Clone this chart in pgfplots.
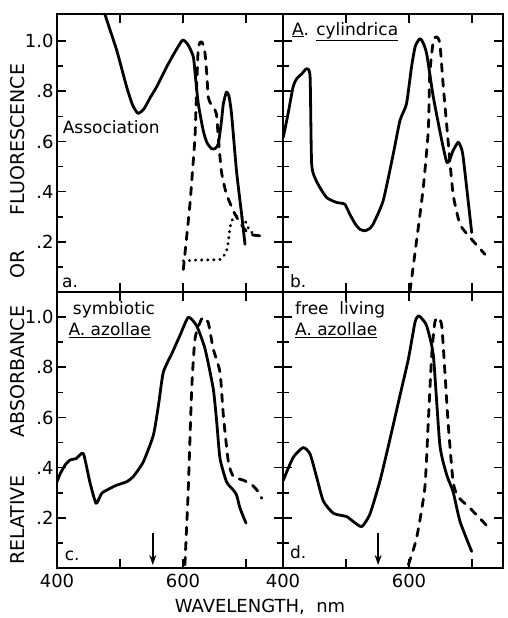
\documentclass[border=0pt]{standalone}
\usepackage{pgfplots}
\pgfplotsset{compat=1.18}
\usetikzlibrary{arrows.meta}
\usepackage{fontspec}
\setmainfont{DejaVu Sans}

\pgfplotsset{
  panel/.style={
    scale only axis,
    ymin=0,
    xmin=400,
    axis line style={line width=1.7pt},
    every tick/.style={black, line width=1.6pt},
    tick align=inside,
    tickwidth=9pt,
    subtickwidth=6pt,
    tick pos=both,
    xtick={400,500,600,700},
    ytick={0.2,0.4,0.6,0.8,1.0},
    minor ytick={0.1,0.3,0.5,0.7,0.9},
    xticklabels={},
    yticklabels={},
    ticklabel style={font=\fontsize{18}{20}\selectfont},
  },
}
\tikzset{
  crv/.style={black, mark=none, solid, line width=2.8pt, line join=round, line cap=round, smooth, tension=0.35},
  dsh/.style={dash pattern=on 7.5pt off 7.5pt},
  dot/.style={line width=3.2pt, dash pattern=on 0.1pt off 6pt},
  ptxt/.style={font=\fontsize{17}{19}\selectfont, inner sep=0pt},
  tk/.style={black, line width=1.6pt, line cap=butt},
}
% manual tick marks: #1 = xmax, #2 = ymax
\newcommand{\panelticks}[2]{%
  \pgfplotsinvokeforeach{0.2,0.4,0.6,0.8,1.0}{%
    \draw[tk] (axis cs:400,##1) -- ([xshift=9pt]axis cs:400,##1);
    \draw[tk] (axis cs:#1,##1) -- ([xshift=-9pt]axis cs:#1,##1);}%
  \pgfplotsinvokeforeach{0.1,0.3,0.5,0.7,0.9}{%
    \draw[tk] (axis cs:400,##1) -- ([xshift=5.5pt]axis cs:400,##1);
    \draw[tk] (axis cs:#1,##1) -- ([xshift=-5.5pt]axis cs:#1,##1);}%
  \pgfplotsinvokeforeach{500,600,700}{%
    \draw[tk] (axis cs:##1,0) -- ([yshift=7pt]axis cs:##1,0);
    \draw[tk] (axis cs:##1,#2) -- ([yshift=-7pt]axis cs:##1,#2);}%
}

\begin{document}
\begin{tikzpicture}

% ---------- panel a ----------
\begin{axis}[panel, at={(57pt,-292pt)}, anchor=south west,
  width=226pt, height=278pt, xmax=758.7, ymax=1.108,
  yticklabels={.2,.4,.6,.8,1.0}]
\panelticks{758.7}{1.108}
\addplot[crv] coordinates {(466,1.22) (476,1.108) (494.7,0.964) (510.6,0.817) (520,0.745) (528.6,0.712) (538,0.73) (548,0.775) (558,0.817) (574,0.897) (588,0.96) (599.5,1.004) (608,0.985) (616.4,0.937) (620,0.85) (624.3,0.75) (632,0.644) (638,0.595) (645.5,0.571) (651,0.572) (656,0.59) (661,0.68) (664,0.75) (669,0.797) (673,0.78) (677,0.71) (685,0.48) (693,0.31) (698.4,0.19)};
\addplot[crv,dsh] coordinates {(600.5,0.09) (605,0.2) (611,0.35) (615,0.48) (619,0.617) (621.7,0.817) (624,0.964) (627,0.995) (629.5,0.997) (632,0.985) (635,0.95) (638,0.86) (640,0.777) (644,0.75) (648,0.737) (653,0.71) (656,0.617) (661,0.48) (669,0.39) (682.5,0.31) (695.7,0.257) (706,0.23) (722,0.224)};
\addplot[crv,dot] coordinates {(600.5,0.124) (620,0.127) (640,0.128) (659,0.13) (665,0.145) (669,0.164) (672,0.2) (674.6,0.257) (680,0.297) (690.5,0.304) (698.4,0.284) (706,0.244) (717,0.224)};
\node[ptxt, anchor=west] at (axis cs:409,0.656) {Association};
\node[ptxt, anchor=west] at (axis cs:408,0.035) {a.};
\end{axis}

% ---------- panel b ----------
\begin{axis}[panel, at={(283pt,-292pt)}, anchor=south west,
  width=220pt, height=278pt, xmax=749.2, ymax=1.108]
\panelticks{749.2}{1.108}
\addplot[crv] coordinates {(400.5,0.617) (408,0.71) (416,0.817) (421.7,0.85) (430,0.87) (437.6,0.89) (443,0.857) (445.5,0.51) (453.5,0.44) (469,0.377) (485,0.357) (498,0.35) (506,0.31) (515,0.27) (522,0.25) (530,0.244) (537,0.252) (543,0.27) (559,0.364) (575,0.55) (585.7,0.684) (596,0.75) (604,0.897) (610,0.98) (617.5,1.01) (622,0.995) (628,0.95) (638.6,0.777) (652,0.604) (660,0.517) (665,0.53) (670,0.564) (678,0.597) (682,0.58) (686,0.537) (699.5,0.237)};
\addplot[crv,dsh] coordinates {(601.6,0.004) (612,0.204) (622.7,0.417) (630.6,0.644) (633,0.87) (638.6,1.0) (644,1.017) (649,0.99) (654.5,0.817) (662,0.604) (670,0.39) (681,0.27) (697,0.217) (720.6,0.15)};
\node[ptxt, anchor=base west] at (axis cs:414,1.024) {\underline{A}. \underline{cylindrica}};
\node[ptxt, anchor=west] at (axis cs:411,0.044) {b.};
\end{axis}

% ---------- panel c ----------
\begin{axis}[panel, at={(57pt,-568pt)}, anchor=south west,
  width=226pt, height=276pt, xmax=758.7, ymax=1.1,
  yticklabels={.2,.4,.6,.8,1.0}, xticklabels={400,,600,},
  xticklabel style={yshift=-3pt}]
\panelticks{758.7}{1.1}
\addplot[crv] coordinates {(400,0.344) (405,0.375) (412.7,0.41) (420.6,0.43) (431,0.437) (441.8,0.456) (452,0.344) (462,0.258) (471,0.298) (484,0.317) (494.7,0.33) (510.6,0.344) (521,0.364) (537,0.423) (553,0.53) (561,0.648) (568.7,0.78) (582,0.853) (595,0.926) (608.4,0.999) (621.7,0.965) (635,0.873) (648,0.714) (653.5,0.582) (658.7,0.437) (669,0.344) (680,0.31) (685,0.291) (690.5,0.238) (700,0.179)};
\addplot[crv,dsh] coordinates {(603,0.013) (605.5,0.15) (608.4,0.317) (613.8,0.714) (619,0.913) (627,0.979) (632,0.999) (640,0.979) (648,0.873) (658.7,0.78) (664,0.609) (672,0.423) (680,0.364) (695.7,0.35) (710,0.33) (719.5,0.304) (725,0.278)};
\node[ptxt, anchor=base west] at (axis cs:425,1.012) {symbiotic};
\node[ptxt, anchor=base west] at (axis cs:418,0.926) {\underline{A. azollae}};
\node[ptxt, anchor=west] at (axis cs:412,0.05) {c.};
\draw[-{Stealth[length=10pt,width=7pt]}, line width=1.6pt] (axis cs:552,0.139) -- (axis cs:552,0.012);
\end{axis}

% ---------- panel d ----------
\begin{axis}[panel, at={(283pt,-568pt)}, anchor=south west,
  width=220pt, height=276pt, xmax=749.2, ymax=1.1,
  xticklabels={400,,600,},
  xticklabel style={yshift=-3pt}]
\panelticks{749.2}{1.1}
\addplot[crv] coordinates {(400.5,0.35) (416,0.44) (432,0.48) (443,0.454) (453.5,0.361) (464,0.267) (480,0.218) (501,0.205) (511.6,0.185) (525,0.165) (538,0.215) (554,0.348) (570,0.516) (585.7,0.688) (599,0.833) (609.5,0.979) (614.8,1.005) (620,0.995) (628,0.965) (638.6,0.847) (649,0.49) (660,0.37) (670,0.304) (681,0.185) (699.5,0.066)};
\addplot[crv,dsh] coordinates {(599,0.013) (612,0.119) (625,0.317) (630.6,0.582) (636,0.847) (641,0.979) (646.5,0.999) (652,0.965) (657,0.78) (662,0.582) (670,0.344) (678,0.284) (697,0.238) (723,0.17)};
\node[ptxt, anchor=base west] at (axis cs:419,1.012) {free\ \ living};
\node[ptxt, anchor=base west] at (axis cs:419,0.926) {\underline{A. azollae}};
\node[ptxt, anchor=west] at (axis cs:411,0.063) {d.};
\draw[-{Stealth[length=10pt,width=7pt]}, line width=1.6pt] (axis cs:551,0.139) -- (axis cs:551,0.012);
\end{axis}

% ---------- axis titles ----------
\begin{scope}[every node/.style={font=\fontsize{19}{21}\selectfont, rotate=90, inner sep=0pt}]
\node at (18pt,-139.5pt) {FLUORESCENCE};
\node at (18pt,-264pt) {OR};
\node at (18pt,-371.5pt) {ABSORBANCE};
\node at (18pt,-520pt) {RELATIVE};
\end{scope}
\node[font=\fontsize{18}{20}\selectfont, inner sep=0pt] at (260pt,-607pt) {WAVELENGTH,\ \ nm};
\path[use as bounding box] (0,0) rectangle (507pt,-618pt);
\end{tikzpicture}
\end{document}
